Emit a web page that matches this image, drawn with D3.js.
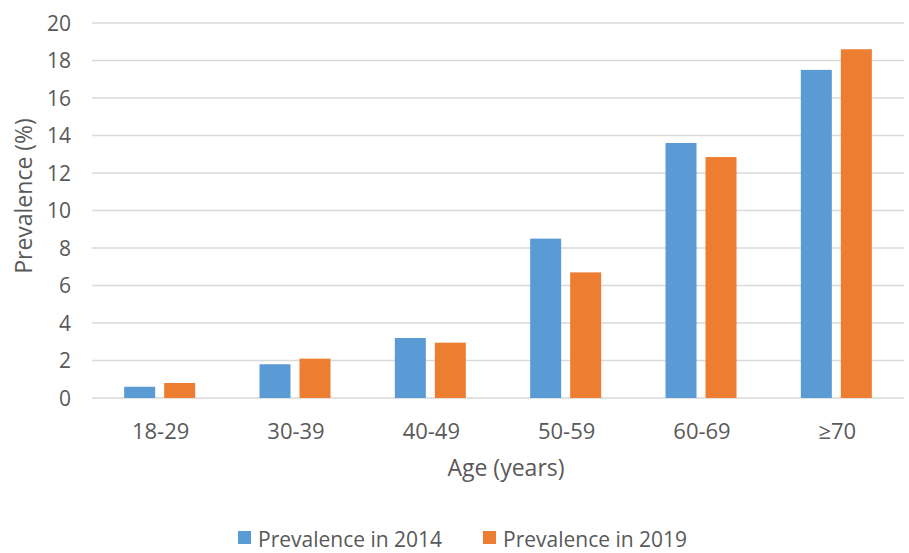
<!DOCTYPE html>
<html>
<head>
<meta charset="utf-8">
<script src="https://cdn.jsdelivr.net/npm/d3@7"></script>
<style>
  body { margin: 0; background: #fff; }
  text { font-family: "Open Sans", "Noto Sans", sans-serif; fill: #595959; }
</style>
</head>
<body>
<svg id="chart" width="909" height="553"></svg>
<script>
// data
const ageGroups = ["18-29", "30-39", "40-49", "50-59", "60-69", "\u226570"];
const prev2014 = [0.6, 1.8, 3.2, 8.5, 13.6, 17.5];
const prev2019 = [0.8, 2.1, 2.95, 6.7, 12.85, 18.6];
const yTicks = [0, 2, 4, 6, 8, 10, 12, 14, 16, 18, 20];
const seriesNames = ["Prevalence in 2014", "Prevalence in 2019"];
const colors = ["#5B9BD5", "#ED7D31"];

const margin = {left: 92, right: 5, top: 23, bottom: 155};
const width = 909, height = 553;

const svg = d3.select("#chart");

const x = d3.scaleBand()
    .domain(ageGroups)
    .range([margin.left, width - margin.right]);

const y = d3.scaleLinear()
    .domain([0, 20])
    .range([height - margin.bottom, margin.top]);

// gridlines
svg.append("g")
    .selectAll("line")
    .data(yTicks)
    .join("line")
    .attr("x1", margin.left)
    .attr("x2", width - margin.right)
    .attr("y1", d => y(d))
    .attr("y2", d => y(d))
    .attr("stroke", "#D9D9D9")
    .attr("stroke-width", 1.5);

// y tick labels
svg.append("g")
    .selectAll("text")
    .data(yTicks)
    .join("text")
    .attr("x", 71)
    .attr("y", d => y(d))
    .attr("dy", "0.36em")
    .attr("text-anchor", "end")
    .attr("font-size", 21)
    .text(d => d);

// bars
const barW = 31, gap = 9;
const series = [prev2014, prev2019];
series.forEach((vals, s) => {
  svg.append("g")
      .selectAll("rect")
      .data(vals)
      .join("rect")
      .attr("x", (d, i) => x(ageGroups[i]) + x.bandwidth() / 2 - barW - gap / 2 + s * (barW + gap))
      .attr("y", d => y(d))
      .attr("width", barW)
      .attr("height", d => y(0) - y(d))
      .attr("fill", colors[s]);
});

// x labels
svg.append("g")
    .selectAll("text")
    .data(ageGroups)
    .join("text")
    .attr("x", d => x(d) + x.bandwidth() / 2 + 1)
    .attr("y", 439)
    .attr("text-anchor", "middle")
    .attr("font-size", 22)
    .text(d => d);

// axis titles
svg.append("text")
    .attr("x", 506)
    .attr("y", 476)
    .attr("text-anchor", "middle")
    .attr("font-size", 23)
    .text("Age (years)");

svg.append("text")
    .attr("transform", "translate(32,196) rotate(-90)")
    .attr("text-anchor", "middle")
    .attr("font-size", 23)
    .text("Prevalence (%)");

// legend
const legendX = [238, 483];
seriesNames.forEach((name, s) => {
  svg.append("rect")
      .attr("x", legendX[s])
      .attr("y", 531)
      .attr("width", 13)
      .attr("height", 13)
      .attr("fill", colors[s]);
  svg.append("text")
      .attr("x", legendX[s] + 20)
      .attr("y", 547)
      .attr("font-size", 21)
      .text(name);
});
</script>
</body>
</html>
